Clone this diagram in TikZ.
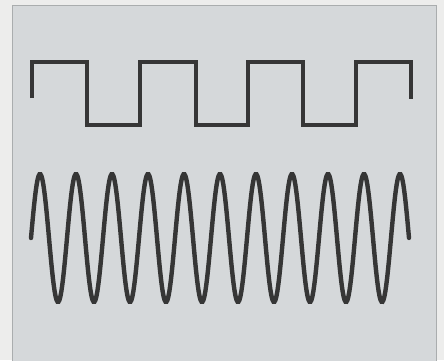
\documentclass[tikz,border=0pt]{standalone}
\usepackage{tikz}

\definecolor{paper}{HTML}{EDEDEC}
\definecolor{panel}{HTML}{D5D8DA}
\definecolor{ink}{HTML}{363636}

\tikzset{
  trace/.style={ink,line width=3.3pt,line join=miter},
  wave/.style={ink,line width=4.4pt,line cap=round}
}

\begin{document}
\begin{tikzpicture}[x=1pt,y=-1pt]
  \useasboundingbox (0,0) rectangle (444,360);
  \fill[paper](0,0) rectangle (444,360);
  \filldraw[fill=panel,draw=panel!80!black,line width=0.6pt](12,5) rectangle (436,362);
  % square wave
  \draw[trace](32,98)--(32,62)--(87,62)--(87,125)--(140,125)--(140,62)--(196,62)--(196,125)
    --(248,125)--(248,62)--(303,62)--(303,125)--(356,125)--(356,62)--(411,62)--(411,99);
  % sine wave
  \draw[wave] plot[domain=31:409,samples=400] (\x,{238-64*sin(10*(\x-31))});
\end{tikzpicture}
\end{document}
